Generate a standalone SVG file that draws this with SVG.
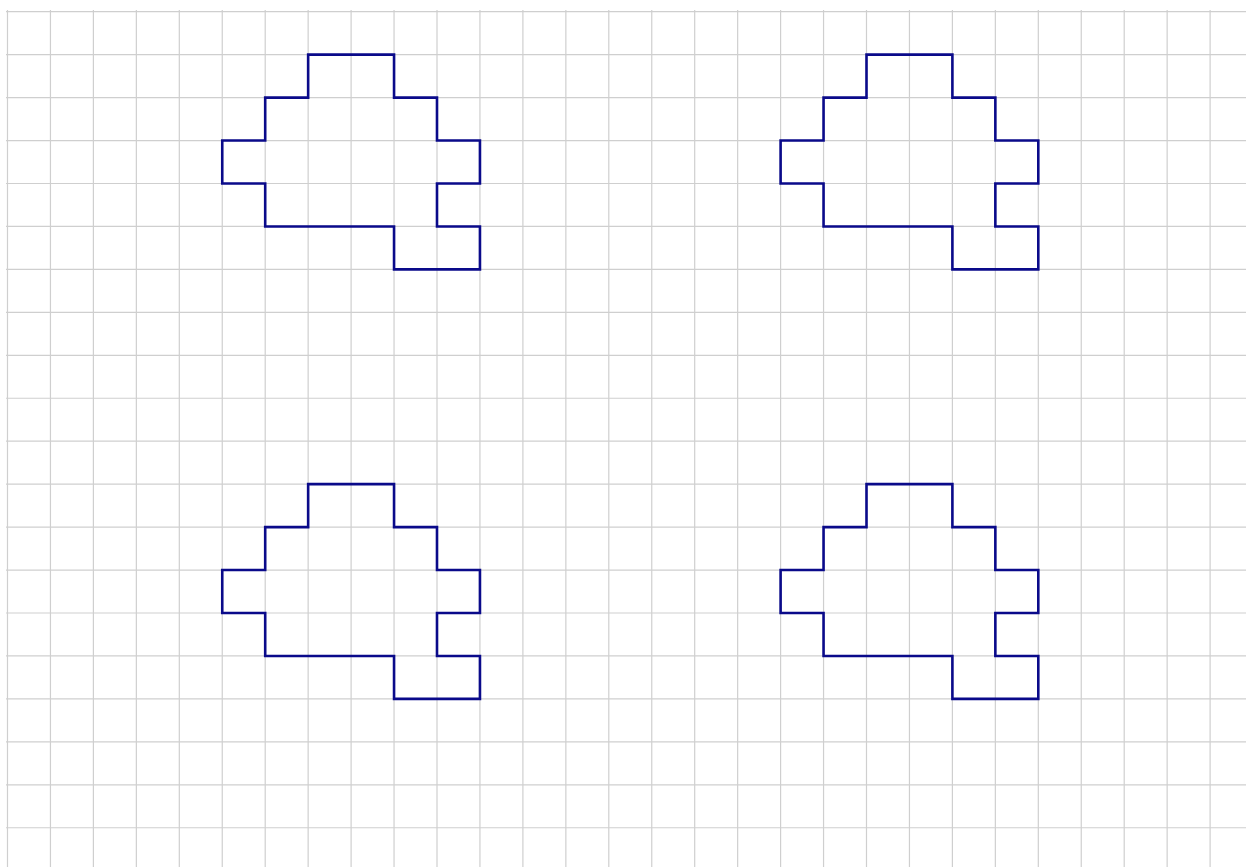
<svg xmlns="http://www.w3.org/2000/svg" width="1246" height="867" viewBox="0 0 1246 867">
<style>
.grid{stroke:#cfcfcf;stroke-width:1.2;fill:none}
.shape{stroke:#0a0a8a;stroke-width:2.6;fill:none;stroke-linejoin:miter}
</style>
<defs>
<path id="s" d="M308.15,54.65 H394.05 V97.6 H437 V140.55 H479.95 V183.5 H437 V226.45 H479.95 V269.4 H394.05 V226.45 H265.2 V183.5 H222.25 V140.55 H265.2 V97.6 H308.15 Z"/>
</defs>
<rect width="1246" height="867" fill="#ffffff"/>
<g id="grid" class="grid">
<path d="M7.5,10V867 M50.45,10V867 M93.4,10V867 M136.35,10V867 M179.3,10V867 M222.25,10V867 M265.2,10V867 M308.15,10V867 M351.1,10V867 M394.05,10V867 M437,10V867 M479.95,10V867 M522.9,10V867 M565.85,10V867 M608.8,10V867 M651.75,10V867 M694.7,10V867 M737.65,10V867 M780.6,10V867 M823.55,10V867 M866.5,10V867 M909.45,10V867 M952.4,10V867 M995.35,10V867 M1038.3,10V867 M1081.25,10V867 M1124.2,10V867 M1167.15,10V867 M1210.1,10V867"/>
<path d="M6,11.7H1246 M6,54.65H1246 M6,97.6H1246 M6,140.55H1246 M6,183.5H1246 M6,226.45H1246 M6,269.4H1246 M6,312.35H1246 M6,355.3H1246 M6,398.25H1246 M6,441.2H1246 M6,484.15H1246 M6,527.1H1246 M6,570.05H1246 M6,613H1246 M6,655.95H1246 M6,698.9H1246 M6,741.85H1246 M6,784.8H1246 M6,827.75H1246"/>
</g>
<g id="shape-top-left" class="shape"><use href="#s"/></g>
<g id="shape-top-right" class="shape"><use href="#s" transform="translate(558.35,0)"/></g>
<g id="shape-bottom-left" class="shape"><use href="#s" transform="translate(0,429.5)"/></g>
<g id="shape-bottom-right" class="shape"><use href="#s" transform="translate(558.35,429.5)"/></g>
</svg>
